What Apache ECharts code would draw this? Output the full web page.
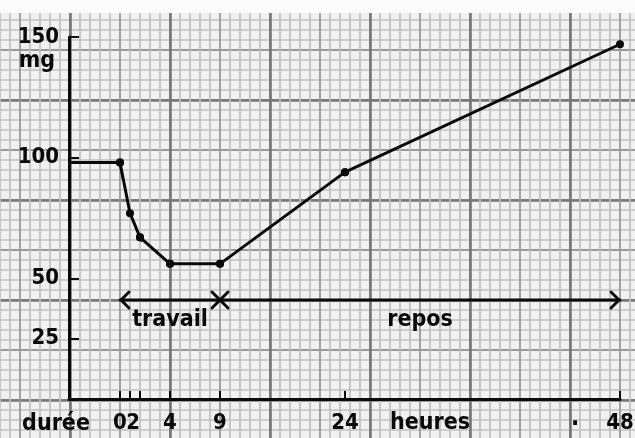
<!DOCTYPE html>
<html><head><meta charset="utf-8">
<script src="https://cdn.jsdelivr.net/npm/echarts@6/dist/echarts.min.js"></script>
<style>html,body{margin:0;padding:0;background:#f1f1f1}#c{width:635px;height:438px}</style>
</head><body><div id="c"></div>
<script>
// ---- data ----
const hours = [-5, 0, 1, 2, 4, 9, 24, 48];          // time (h); -5 = level before work
const mg = [98, 98, 77, 67, 56, 56, 94, 147];        // mg
const showPoint = [false, true, true, true, true, true, true, true];
const xTickHours = [0, 1, 2, 4, 9, 24, 48];
const xLabelHours = [0, 2, 4, 9, 24, 48];
const xLabelText = ['0', '2', '4', '9', '24', '48'];
const yTickValues = [25, 50, 100, 150];
const yLabelText = ['25', '50', '100', '150'];
const yUnit = 'mg';
const xTitle = 'durée';
const xUnit = 'heures';
const phaseNames = ['travail', 'repos'];
const phaseFrom = [0, 9];
const phaseTo = [9, 48];
const phaseLevel = 41;

// ---- layout: hand-drawn broken time axis, one linear segment per grid ----
const breaks = [-5, 0, 2, 4, 9, 24, 48];
const breakPx = [69, 120, 140, 170, 220, 345, 620];
const plotTop = 37, plotBottom = 399;
const INK = '#0a0a0a';
const FONT = '"DejaVu Sans Condensed", "DejaVu Sans", sans-serif';

const chart = echarts.init(document.getElementById('c'), null, {renderer: 'canvas'});
const grids = [], xAxes = [], yAxes = [], series = [];
const nSeg = breaks.length - 1;
for (let i = 0; i < nSeg; i++) {
  const lo = breaks[i], hi = breaks[i + 1];
  grids.push({left: breakPx[i], width: breakPx[i + 1] - breakPx[i], top: plotTop,
    height: plotBottom - plotTop, outerBoundsMode: 'none', containLabel: false});
  const ticks = xTickHours.filter(h => h > lo && h <= hi);
  const labs = xLabelHours.filter(h => h > lo && h <= hi);
  xAxes.push({type: 'value', gridIndex: i, min: lo, max: hi, z: 3,
    axisLine: {show: true, onZero: false, lineStyle: {color: INK, width: 3}},
    axisTick: {show: ticks.length > 0, inside: true, length: 8, customValues: ticks,
      lineStyle: {color: INK, width: 2}},
    axisLabel: {show: labs.length > 0, customValues: labs, showMinLabel: false, showMaxLabel: true,
      formatter: v => { const k = xLabelHours.indexOf(v); return k >= 0 ? xLabelText[k] : ''; },
      color: INK, fontSize: 22, fontWeight: 'bold', fontFamily: FONT, margin: 13,
      align: (lo === 0 && hi === 2) ? 'right' : 'center'},
    splitLine: {show: false}});
  yAxes.push({type: 'value', gridIndex: i, min: 0, max: 150, show: i === 0, z: 3,
    axisLine: {show: true, onZero: false, lineStyle: {color: INK, width: 3}},
    axisTick: {show: true, inside: true, length: 10, customValues: yTickValues,
      lineStyle: {color: INK, width: 2}},
    axisLabel: {customValues: yTickValues, showMinLabel: true, showMaxLabel: true,
      formatter: v => { const k = yTickValues.indexOf(v); return k >= 0 ? yLabelText[k] : ''; },
      color: INK, fontSize: 22, fontWeight: 'bold', fontFamily: FONT, margin: 10},
    splitLine: {show: false}});
  series.push({type: 'line', xAxisIndex: i, yAxisIndex: i, clip: true, z: 4,
    data: hours.map((h, k) => ({value: [h, mg[k]], symbol: showPoint[k] ? 'circle' : 'none'})),
    symbolSize: 8, showSymbol: true, showAllSymbol: true,
    itemStyle: {color: INK}, lineStyle: {color: INK, width: 3}, silent: true});
}
// graph paper (two background grids in pixel-like units)
function paper(idx, interval, major, minor) {
  grids.push({left: -30, top: 0, width: 700, height: 500, outerBoundsMode: 'none', containLabel: false});
  const common = {type: 'value', gridIndex: idx, interval: interval, z: 0, silent: true,
    axisLine: {show: false}, axisTick: {show: false}, axisLabel: {show: false},
    splitLine: {show: true, lineStyle: {color: major.c, width: major.w}},
    minorTick: {show: false, splitNumber: 5},
    minorSplitLine: {show: !!minor, lineStyle: minor ? {color: minor.c, width: minor.w} : {}}};
  xAxes.push(Object.assign({min: 0, max: 700}, common));
  yAxes.push(Object.assign({min: 0, max: 500}, common));
}
paper(nSeg, 50, {c: '#999999', w: 1.8}, {c: '#c0c0c0', w: 1.7});
paper(nSeg + 1, 100, {c: '#767676', w: 2.6}, null);

chart.setOption({
  animation: false,
  backgroundColor: '#f1f1f1',
  grid: grids, xAxis: xAxes, yAxis: yAxes, series: series
});

function segIndex(h) {
  for (let i = 0; i < nSeg; i++) if (h >= breaks[i] && h <= breaks[i + 1]) return i;
  return nSeg - 1;
}
function toPx(h, v) { return chart.convertToPixel({gridIndex: segIndex(h)}, [h, v]); }

const txt = (x, y, s, size, extra) => Object.assign({type: 'text', x: x, y: y, z: 10, silent: true,
  style: {text: s, fill: INK, font: 'bold ' + size + 'px ' + FONT, align: 'center', verticalAlign: 'middle'}}, extra || {});
const line = pts => ({type: 'polyline', z: 9, silent: true, shape: {points: pts},
  style: {stroke: INK, lineWidth: 3, fill: null, lineCap: 'round', lineJoin: 'round'}});

const gfx = [];
gfx.push({type: 'rect', z: 1, silent: true, shape: {x: 0, y: 0, width: 635, height: 13}, style: {fill: '#fbfbfb'}});
const origin = toPx(breaks[0], 0);
const yTop = toPx(breaks[0], 150);
gfx.push(txt(yTop[0] - 32, yTop[1] + 24, yUnit, 23));
gfx.push(txt(origin[0] - 13, origin[1] + 25, xTitle, 23));
gfx.push(txt(430, origin[1] + 24, xUnit, 23));
gfx.push(txt(575, origin[1] + 20, '.', 24));
phaseNames.forEach((name, k) => {
  const a = toPx(phaseFrom[k], phaseLevel), b = toPx(phaseTo[k], phaseLevel);
  gfx.push(line([a, b]));
  gfx.push(txt((a[0] + b[0]) / 2, a[1] + 20, name, 23));
});
const s = toPx(phaseFrom[0], phaseLevel);
gfx.push(line([[s[0] + 9, s[1] - 8], [s[0] + 1, s[1]], [s[0] + 9, s[1] + 8]]));
const m = toPx(phaseTo[0], phaseLevel);
gfx.push(line([[m[0] - 8, m[1] - 8], [m[0] + 8, m[1] + 8]]));
gfx.push(line([[m[0] - 8, m[1] + 8], [m[0] + 8, m[1] - 8]]));
const e = toPx(phaseTo[phaseTo.length - 1], phaseLevel);
gfx.push(line([[e[0] - 9, e[1] - 8], [e[0] - 1, e[1]], [e[0] - 9, e[1] + 8]]));
chart.setOption({graphic: gfx});
</script></body></html>
